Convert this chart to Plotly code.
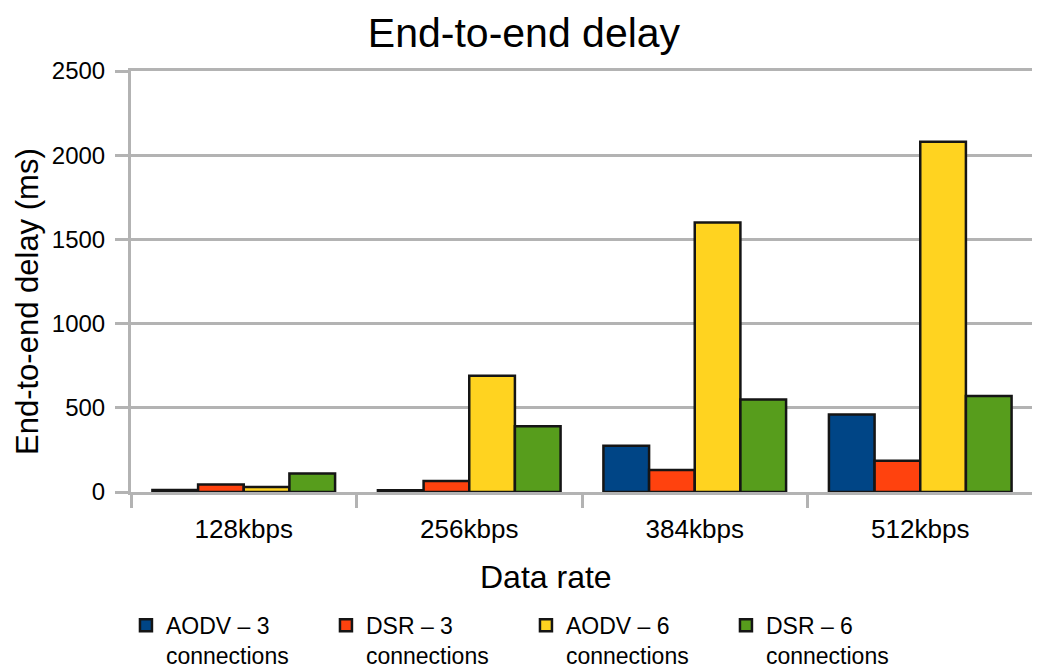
import plotly.graph_objects as go

categories = ["128kbps", "256kbps", "384kbps", "512kbps"]
series_names = ["AODV – 3<br>connections", "DSR – 3<br>connections",
                "AODV – 6<br>connections", "DSR – 6<br>connections"]
aodv3 = [12, 10, 275, 460]
dsr3 = [45, 65, 130, 185]
aodv6 = [30, 690, 1600, 2080]
dsr6 = [110, 390, 550, 570]
colors = ["#004586", "#ff420e", "#ffd320", "#579d1c"]
y_ticks = [0, 500, 1000, 1500, 2000, 2500]

FONT = "Liberation Sans, Arial, sans-serif"

fig = go.Figure()
for name, vals, col in zip(series_names, [aodv3, dsr3, aodv6, dsr6], colors):
    fig.add_trace(go.Bar(x=categories, y=vals, name=name,
                         marker=dict(color=col, line=dict(color="#151515", width=2.5))))

fig.update_layout(
    width=1032, height=662,
    paper_bgcolor="white", plot_bgcolor="white",
    font=dict(family=FONT, color="#000000", size=24),
    title=dict(text="End-to-end delay", x=0.5, xanchor="center", xref="container",
               y=0.985, yanchor="top", yref="container", pad=dict(t=0, b=0),
               font=dict(size=41, family=FONT)),
    margin=dict(l=123, r=7, t=63, b=178),
    barmode="group", bargap=0.19, bargroupgap=0,
    showlegend=True,
    legend=dict(orientation="h", x=0.1143, xanchor="left", xref="container",
                y=0.1, yanchor="top", yref="container", valign="top",
                font=dict(size=23, family=FONT), itemwidth=30,
                entrywidth=155, traceorder="normal", tracegroupgap=0),
    xaxis=dict(automargin=False,
               showline=True, linecolor="#b3b3b3", linewidth=3, mirror=True,
               ticks="outside", tickson="boundaries", ticklen=13, tickwidth=3,
               tickcolor="#b3b3b3", tickfont=dict(size=26, family=FONT), showgrid=False,
               ticklabelstandoff=12),
    yaxis=dict(automargin=False,
               range=[0, 2500], tickvals=y_ticks, ticktext=[str(v) for v in y_ticks],
               showline=True, linecolor="#b3b3b3", linewidth=3, mirror=True,
               ticks="outside", ticklen=13, tickwidth=3, tickcolor="#b3b3b3",
               showgrid=True, gridcolor="#b3b3b3", gridwidth=3,
               tickfont=dict(size=24, family=FONT), zeroline=False,
               ticklabelstandoff=5),
    annotations=[
        dict(text="Data rate", xref="paper", yref="paper", x=0.46, y=-0.2019,
             xanchor="center", yanchor="middle", showarrow=False,
             font=dict(size=32, family=FONT)),
        dict(text="End-to-end delay (ms)", xref="paper", yref="paper", x=-0.1142, y=0.4537,
             xanchor="center", yanchor="middle", showarrow=False, textangle=-90,
             font=dict(size=31, family=FONT)),
    ],
)

fig.write_html("out.html")
